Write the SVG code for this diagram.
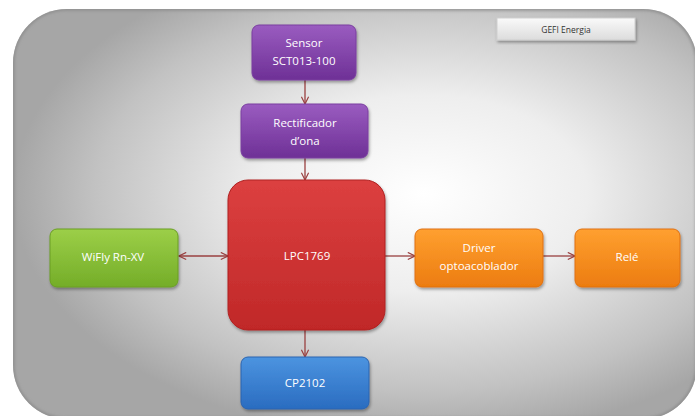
<svg xmlns="http://www.w3.org/2000/svg" width="695" height="416" viewBox="0 0 695 416">
<defs>
<radialGradient id="bg" cx="0.6" cy="0.45" r="0.6">
<stop offset="0" stop-color="#ffffff"/>
<stop offset="0.4" stop-color="#eeeeee"/>
<stop offset="0.8" stop-color="#c2c2c2"/>
<stop offset="1" stop-color="#a6a6a6"/>
</radialGradient>
<linearGradient id="purple" x1="0" y1="0" x2="0" y2="1">
<stop offset="0" stop-color="#9a5cc0"/><stop offset="1" stop-color="#6e3096"/>
</linearGradient>
<linearGradient id="red" x1="0" y1="0" x2="0" y2="1">
<stop offset="0" stop-color="#dc4040"/><stop offset="1" stop-color="#c02828"/>
</linearGradient>
<linearGradient id="green" x1="0" y1="0" x2="0" y2="1">
<stop offset="0" stop-color="#9ccf48"/><stop offset="1" stop-color="#74ad28"/>
</linearGradient>
<linearGradient id="orange" x1="0" y1="0" x2="0" y2="1">
<stop offset="0" stop-color="#ffa030"/><stop offset="1" stop-color="#ec7c10"/>
</linearGradient>
<linearGradient id="blue" x1="0" y1="0" x2="0" y2="1">
<stop offset="0" stop-color="#4c94e0"/><stop offset="1" stop-color="#2a6cc0"/>
</linearGradient>
<linearGradient id="tag" x1="0" y1="0" x2="0" y2="1">
<stop offset="0" stop-color="#fafafa"/><stop offset="1" stop-color="#dcdcdc"/>
</linearGradient>
<filter id="sh" x="-20%" y="-20%" width="140%" height="140%">
<feDropShadow dx="1" dy="2" stdDeviation="1.5" flood-color="#000" flood-opacity="0.35"/>
</filter>
<filter id="blur" x="-5%" y="-5%" width="110%" height="110%">
<feGaussianBlur stdDeviation="1.5"/>
</filter>
<clipPath id="bgclip"><rect x="13" y="9" width="684" height="410" rx="54" ry="54"/></clipPath>
<marker id="ah" viewBox="0 0 10 10" refX="9" refY="5" markerWidth="9" markerHeight="9" orient="auto-start-reverse" markerUnits="userSpaceOnUse">
<path d="M1,1 L9,5 L1,9" fill="none" stroke="#9a4040" stroke-width="1.3"/>
</marker>
</defs>
<style>
.box{stroke-width:1;filter:url(#sh)}
.t{font-family:"Open Sans","Liberation Sans",sans-serif;font-size:11.5px;fill:#ffffff;text-anchor:middle}
.c{stroke:#9a4040;stroke-width:1.3;fill:none;marker-end:url(#ah)}
</style>
<rect x="0" y="0" width="695" height="416" fill="#ffffff"/>
<g id="background">
<rect x="13" y="9" width="684" height="410" rx="54" ry="54" fill="url(#bg)"/>
<rect x="13" y="9" width="684" height="410" rx="54" ry="54" fill="none" stroke="#8c8c8c" stroke-width="3" clip-path="url(#bgclip)" filter="url(#blur)"/>
</g>
<g id="tagbox">
<rect x="497" y="18" width="138" height="22" fill="url(#tag)" stroke="#cfcfcf" filter="url(#sh)"/>
<text x="566" y="33" font-family="'Open Sans','Liberation Sans',sans-serif" font-size="8.5" fill="#333" text-anchor="middle">GEFI Energia</text>
</g>
<g id="connectors">
<line class="c" x1="305" y1="80" x2="305" y2="104"/>
<line class="c" x1="305" y1="158" x2="305" y2="180"/>
<line class="c" x1="179" y1="256" x2="228" y2="256" style="marker-start:url(#ah)"/>
<line class="c" x1="385" y1="256" x2="415" y2="256"/>
<line class="c" x1="543" y1="256" x2="575" y2="256"/>
<line class="c" x1="305" y1="330" x2="305" y2="357"/>
</g>
<g id="sensor">
<rect class="box" x="252" y="25" width="104" height="55" rx="7" fill="url(#purple)" stroke="#7a3ea0"/>
<text class="t" x="304" y="47">Sensor</text>
<text class="t" x="304" y="65">SCT013-100</text>
</g>
<g id="rectificador">
<rect class="box" x="241" y="104" width="127" height="54" rx="7" fill="url(#purple)" stroke="#7a3ea0"/>
<text class="t" x="305" y="127">Rectificador</text>
<text class="t" x="305" y="145">d’ona</text>
</g>
<g id="lpc">
<rect class="box" x="228" y="180" width="157" height="150" rx="20" fill="url(#red)" stroke="#b02020"/>
<text class="t" x="307" y="260">LPC1769</text>
</g>
<g id="wifly">
<rect class="box" x="50" y="229" width="128" height="58" rx="7" fill="url(#green)" stroke="#6a9e24"/>
<text class="t" x="113" y="261">WiFly Rn-XV</text>
</g>
<g id="driver">
<rect class="box" x="415" y="229" width="128" height="58" rx="7" fill="url(#orange)" stroke="#e07010"/>
<text class="t" x="479" y="252">Driver</text>
<text class="t" x="479" y="270">optoacoblador</text>
</g>
<g id="rele">
<rect class="box" x="575" y="229" width="105" height="58" rx="7" fill="url(#orange)" stroke="#e07010"/>
<text class="t" x="627" y="261">Relé</text>
</g>
<g id="cp2102">
<rect class="box" x="241" y="357" width="128" height="52" rx="7" fill="url(#blue)" stroke="#2a64b0"/>
<text class="t" x="305" y="387">CP2102</text>
</g>
</svg>
